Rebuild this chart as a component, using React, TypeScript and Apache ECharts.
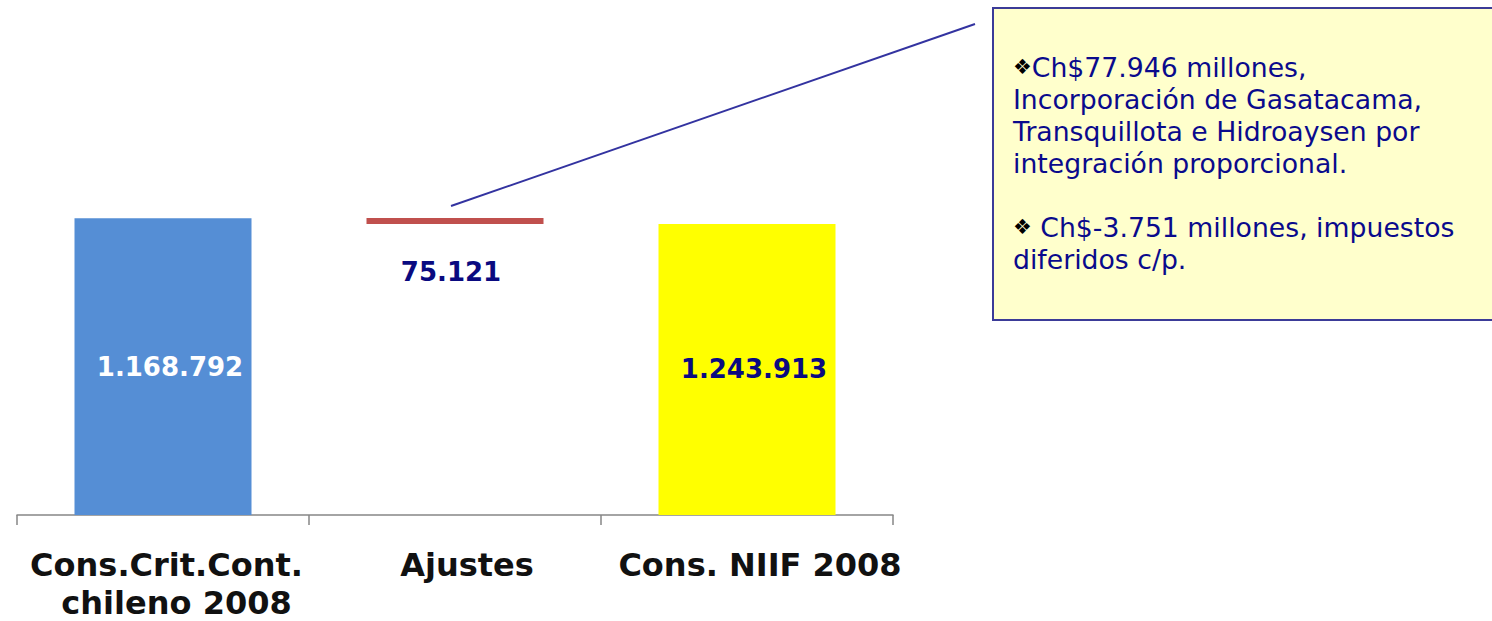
import React, { useEffect, useRef } from "react";
import * as echarts from "echarts";

// Categories (x axis)
const categories: string[] = ["Cons.Crit.Cont.\nchileno 2008", "Ajustes", "Cons. NIIF 2008"];
// Bar geometry (transparent base + visible part)
const barBase: (number | string)[] = ["-", 1145700, "-"];
const barSize: number[] = [1168792, 23100, 1145700];
// Value labels as printed
const valueLabels: string[] = ["1.168.792", "75.121", "1.243.913"];
// Callout texts
const note1: string[] = ["Ch$77.946 millones,", "Incorporación de Gasatacama,", "Transquillota e Hidroaysen por", "integración proporcional."];
const note2: string[] = [" Ch$-3.751 millones, impuestos", "diferidos c/p."];

const FONT = "'DejaVu Sans', Verdana, sans-serif";
const barColors = ["#558ED5", "#C0504D", "#FFFF00"];
const labelColors = ["#FFFFFF", "#0A0A80", "#0A0A80"];
const catPad = [[7, 27], [24], [26]];

export default function App() {
  const ref = useRef<HTMLDivElement>(null);
  useEffect(() => {
    if (!ref.current) return;
    const chart = echarts.init(ref.current, null, { renderer: "svg" });
    const bulletText = (lines: string[]) =>
      lines.map((l, i) => (i === 0 ? `{b|❖}{t|${l}}` : `{t|${l}}`)).join("\n");
    const richNote = {
      b: { fontSize: 21, fill: "#000", fontFamily: FONT, lineHeight: 32, verticalAlign: "middle" },
      t: { fontSize: 26.7, fill: "#0A0A8C", fontFamily: FONT, lineHeight: 32 },
    };
    const rich: any = {};
    catPad.forEach((pads, i) => {
      pads.forEach((p, j) => {
        rich["c" + i + "_" + j] = {
          fontSize: 32,
          fontWeight: "bold",
          fontFamily: FONT,
          color: "#111",
          lineHeight: 38,
          padding: [0, 0, 0, p],
        };
      });
    });
    chart.setOption({
      animation: false,
      grid: { left: 17, right: 599, top: 7, bottom: 106 },
      xAxis: {
        type: "category",
        data: categories,
        axisLine: { lineStyle: { color: "#868686", width: 1.5 } },
        axisTick: { show: true, length: 10, interval: 0, lineStyle: { color: "#868686", width: 1.5 } },
        axisLabel: {
          interval: 0,
          margin: 31,
          formatter: (v: string, idx: number) =>
            v.split("\n").map((l, j) => `{c${idx}_${j}|${l}}`).join("\n"),
          rich,
        },
      },
      yAxis: {
        type: "value",
        min: 0,
        max: 2000000,
        show: false,
        splitLine: { show: false },
      },
      series: [
        {
          type: "bar",
          stack: "w",
          data: barBase,
          itemStyle: { color: "transparent" },
          barWidth: 177,
          silent: true,
        },
        {
          type: "bar",
          stack: "w",
          barWidth: 177,
          data: barSize.map((v, i) => ({
            value: v,
            itemStyle: { color: barColors[i] },
            label: {
              show: true,
              position: i === 1 ? "bottom" : "inside",
              distance: i === 1 ? 33 : 5,
              offset: i === 1 ? [-4, 0] : [7, 0],
              color: labelColors[i],
              fontSize: 26,
              fontWeight: "bold",
              fontFamily: FONT,
              lineHeight: 30,
              formatter: () => valueLabels[i],
            },
          })),
        },
      ],
      graphic: [
        {
          type: "line",
          shape: { x1: 451, y1: 206, x2: 975, y2: 24 },
          style: { stroke: "#3333A0", lineWidth: 2 },
          z: 10,
        },
        {
          type: "rect",
          shape: { x: 993, y: 8, width: 520, height: 312 },
          style: { fill: "#FFFFCC", stroke: "#3B3B98", lineWidth: 2 },
          z: 10,
        },
        {
          type: "text",
          x: 1013,
          y: 51,
          style: { text: bulletText(note1), rich: richNote, fontFamily: FONT, fontSize: 26.7, lineHeight: 32, verticalAlign: "top" },
          z: 11,
        },
        {
          type: "text",
          x: 1013,
          y: 211,
          style: { text: bulletText(note2), rich: richNote, fontFamily: FONT, fontSize: 26.7, lineHeight: 32, verticalAlign: "top" },
          z: 11,
        },
      ],
    });
    return () => chart.dispose();
  }, []);
  return (
    <div
      ref={ref}
      style={{ position: "absolute", left: 0, top: 0, width: 1492, height: 621, background: "#fff" }}
    />
  );
}
